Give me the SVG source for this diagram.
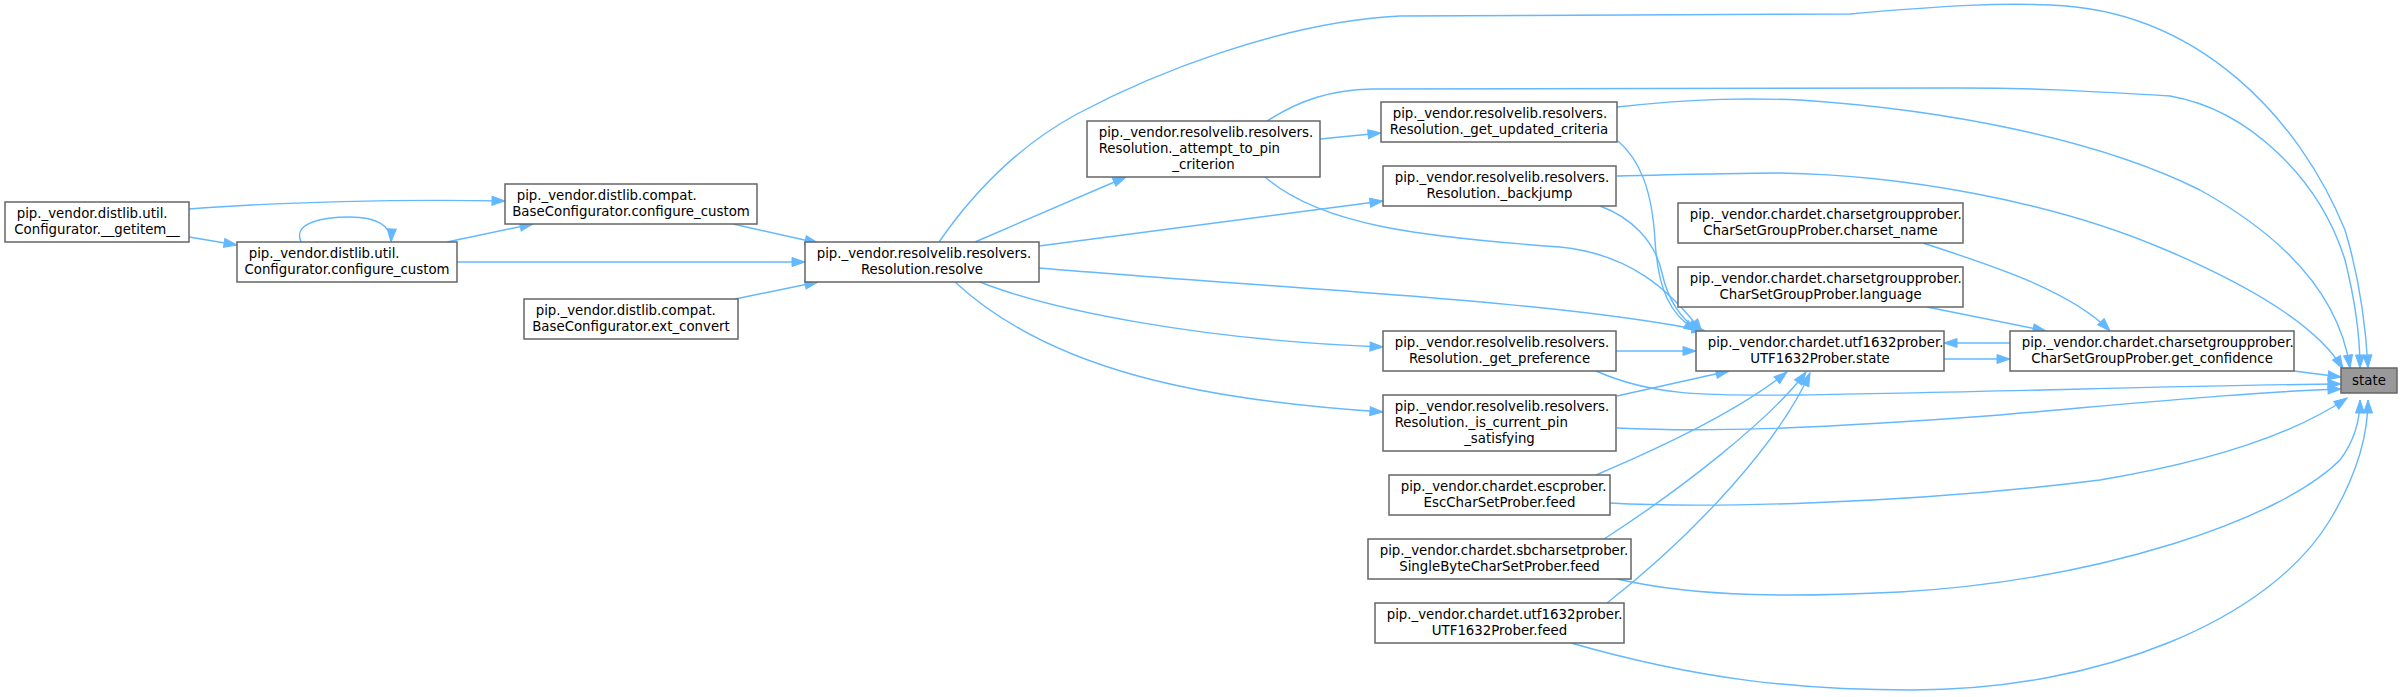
<svg xmlns="http://www.w3.org/2000/svg" width="2403" height="697" viewBox="0 0 2403 697">
<style>
.n rect{fill:#ffffff;stroke:#666666;stroke-width:1.5}
#n_state rect{fill:#999999;stroke:#666666}
text{font-family:"DejaVu Sans","Liberation Sans",sans-serif;font-size:13.33px;fill:#000000}
.m{text-anchor:middle}
.e path{fill:none;stroke:#63b8ff;stroke-width:1.4;marker-end:url(#ah)}
</style>
<defs>
<marker id="ah" markerUnits="userSpaceOnUse" markerWidth="14" markerHeight="10" refX="13" refY="4.5" orient="auto" overflow="visible">
<path d="M0,0 L13,4.5 L0,9 Z" fill="#63b8ff" stroke="#63b8ff" stroke-width="1"/>
</marker>
</defs>
<rect width="2403" height="697" fill="#ffffff"/>
<g class="e" id="connectors">
<path d="M189,209 C280,202 400,199 505,201"/>
<path d="M189,237 L237,245"/>
<path d="M301,242 C292,222 325,217 350,217 C375,217 392,225 391,242"/>
<path d="M447,242 L533,224"/>
<path d="M457,262 L805,262"/>
<path d="M733,224 L818,243"/>
<path d="M735,299 L818,282"/>
<path d="M975,242 L1126,177"/>
<path d="M1039,246 L1383,201"/>
<path d="M939,242 C975,190 1020,145 1077,114 C1150,75 1280,22 1400,16 L1850,14 C1950,5 2000,3 2050,5 C2200,10 2300,120 2345,230 C2360,280 2366,330 2368,368"/>
<path d="M1039,268 C1300,290 1550,300 1705,331"/>
<path d="M980,282 C1050,310 1200,340 1383,347"/>
<path d="M955,282 C1050,370 1200,400 1383,412"/>
<path d="M1320,139 L1381,133"/>
<path d="M1267,121 C1300,100 1330,90 1372,89 L1960,88 C2050,88 2100,92 2170,96 C2250,110 2320,180 2345,260 C2355,300 2360,340 2360,368"/>
<path d="M1265,177 C1320,225 1420,237 1560,247 C1630,254 1670,290 1702,332"/>
<path d="M1617,107 C1700,98 1750,98 1800,100 C1950,110 2100,140 2200,190 C2290,240 2340,300 2350,368"/>
<path d="M1618,141 C1640,160 1652,190 1655,240 C1658,290 1670,315 1697,331"/>
<path d="M1617,176 C1700,174 1740,173 1780,173 C1900,175 2050,200 2166,250 C2260,290 2320,330 2343,369"/>
<path d="M1600,206 C1630,217 1655,240 1662,273 C1668,300 1680,318 1700,332"/>
<path d="M1923,243 C1990,265 2070,290 2110,331"/>
<path d="M1927,307 L2046,331"/>
<path d="M1615,351 L1696,351"/>
<path d="M1596,371 C1650,395 1700,396 1800,395 C2000,392 2200,385 2341,384"/>
<path d="M1617,396 L1729,371"/>
<path d="M1617,428 C1700,432 1800,430 2000,415 C2150,402 2250,392 2341,389"/>
<path d="M1596,475 C1660,448 1740,410 1787,372"/>
<path d="M1609,503 C1700,508 1900,505 2100,480 C2220,460 2300,430 2347,398"/>
<path d="M1604,539 C1680,490 1770,420 1806,372"/>
<path d="M1617,579 C1700,598 1800,597 1900,592 C2100,580 2280,520 2340,460 C2355,440 2360,420 2360,400"/>
<path d="M1607,603 C1700,530 1780,440 1810,373"/>
<path d="M1571,643 C1700,680 1800,690 1912,690 C2100,690 2270,620 2330,520 C2360,470 2368,430 2368,400"/>
<path d="M1944,359 L2010,359"/>
<path d="M2010,343 L1944,343"/>
<path d="M2294,371 L2341,377"/>
</g>
<g class="n" id="n_getitem"><rect x="5" y="202" width="184" height="40"/><text x="16.7" y="217.5">pip._vendor.distlib.util.</text><text class="m" x="97" y="233.5">Configurator.__getitem__</text></g>
<g class="n" id="n_util_cc"><rect x="237" y="242" width="220" height="40"/><text x="248.7" y="257.5">pip._vendor.distlib.util.</text><text class="m" x="347" y="273.5">Configurator.configure_custom</text></g>
<g class="n" id="n_compat_cc"><rect x="505" y="184" width="252" height="40"/><text x="516.7" y="199.5">pip._vendor.distlib.compat.</text><text class="m" x="631" y="215.5">BaseConfigurator.configure_custom</text></g>
<g class="n" id="n_ext_convert"><rect x="524" y="299" width="214" height="40"/><text x="535.7" y="314.5">pip._vendor.distlib.compat.</text><text class="m" x="631" y="330.5">BaseConfigurator.ext_convert</text></g>
<g class="n" id="n_resolve"><rect x="805" y="242" width="234" height="40"/><text x="816.7" y="257.5">pip._vendor.resolvelib.resolvers.</text><text class="m" x="922" y="273.5">Resolution.resolve</text></g>
<g class="n" id="n_attempt"><rect x="1087" y="121" width="233" height="56"/><text x="1098.7" y="136.5">pip._vendor.resolvelib.resolvers.</text><text x="1098.7" y="152.5">Resolution._attempt_to_pin</text><text class="m" x="1203.5" y="168.5">_criterion</text></g>
<g class="n" id="n_get_updated"><rect x="1381" y="102" width="236" height="40"/><text x="1392.7" y="117.5">pip._vendor.resolvelib.resolvers.</text><text class="m" x="1499" y="133.5">Resolution._get_updated_criteria</text></g>
<g class="n" id="n_backjump"><rect x="1383" y="166" width="233" height="40"/><text x="1394.7" y="181.5">pip._vendor.resolvelib.resolvers.</text><text class="m" x="1499.5" y="197.5">Resolution._backjump</text></g>
<g class="n" id="n_charset_name"><rect x="1678" y="203" width="285" height="40"/><text x="1689.7" y="218.5">pip._vendor.chardet.charsetgroupprober.</text><text class="m" x="1820.5" y="234.5">CharSetGroupProber.charset_name</text></g>
<g class="n" id="n_language"><rect x="1678" y="267" width="285" height="40"/><text x="1689.7" y="282.5">pip._vendor.chardet.charsetgroupprober.</text><text class="m" x="1820.5" y="298.5">CharSetGroupProber.language</text></g>
<g class="n" id="n_get_preference"><rect x="1383" y="331" width="233" height="40"/><text x="1394.7" y="346.5">pip._vendor.resolvelib.resolvers.</text><text class="m" x="1499.5" y="362.5">Resolution._get_preference</text></g>
<g class="n" id="n_is_current_pin"><rect x="1383" y="395" width="233" height="56"/><text x="1394.7" y="410.5">pip._vendor.resolvelib.resolvers.</text><text x="1394.7" y="426.5">Resolution._is_current_pin</text><text class="m" x="1499.5" y="442.5">_satisfying</text></g>
<g class="n" id="n_escprober"><rect x="1389" y="475" width="221" height="40"/><text x="1400.7" y="490.5">pip._vendor.chardet.escprober.</text><text class="m" x="1499.5" y="506.5">EscCharSetProber.feed</text></g>
<g class="n" id="n_sbcharset"><rect x="1368" y="539" width="263" height="40"/><text x="1379.7" y="554.5">pip._vendor.chardet.sbcharsetprober.</text><text class="m" x="1499.5" y="570.5">SingleByteCharSetProber.feed</text></g>
<g class="n" id="n_utf_feed"><rect x="1375" y="603" width="249" height="40"/><text x="1386.7" y="618.5">pip._vendor.chardet.utf1632prober.</text><text class="m" x="1499.5" y="634.5">UTF1632Prober.feed</text></g>
<g class="n" id="n_utf_state"><rect x="1696" y="331" width="248" height="40"/><text x="1707.7" y="346.5">pip._vendor.chardet.utf1632prober.</text><text class="m" x="1820" y="362.5">UTF1632Prober.state</text></g>
<g class="n" id="n_get_confidence"><rect x="2010" y="331" width="284" height="40"/><text x="2021.7" y="346.5">pip._vendor.chardet.charsetgroupprober.</text><text class="m" x="2152" y="362.5">CharSetGroupProber.get_confidence</text></g>
<g class="n" id="n_state"><rect x="2341" y="368" width="56" height="25"/><text class="m" x="2369" y="385">state</text></g>
</svg>
